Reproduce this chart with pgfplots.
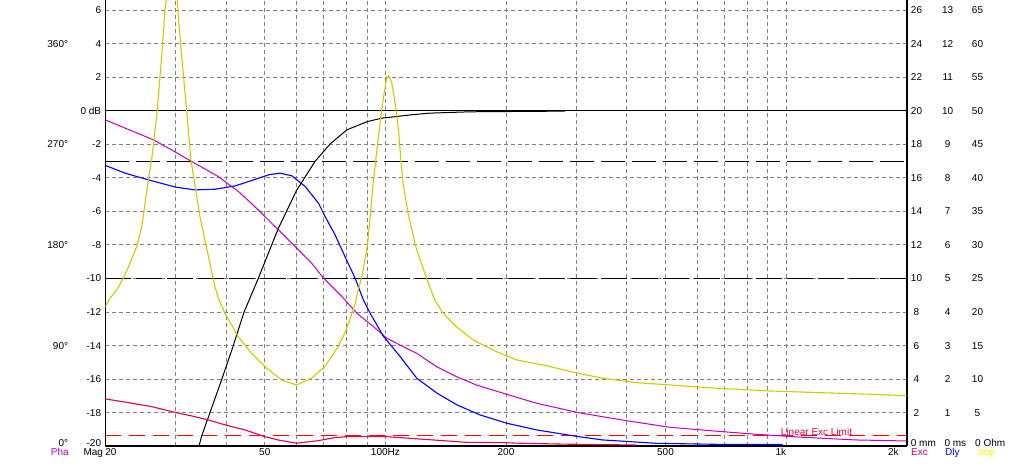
\documentclass[border=0pt]{standalone}
\usepackage{fontspec}
\setmainfont{Liberation Sans}
\usepackage{pgfplots}
\usepackage{pgfplotstable}
\pgfplotsset{compat=1.18}
\definecolor{impc}{RGB}{204,204,0}
\definecolor{impl}{RGB}{255,255,0}
\definecolor{phac}{RGB}{192,0,192}
\definecolor{excc}{RGB}{224,0,80}
\definecolor{dlyc}{RGB}{0,0,255}
\definecolor{limc}{RGB}{255,0,0}
\definecolor{gridc}{RGB}{128,128,128}
\pgfplotstableread{
f dB
34.0 -20.3
34.8 -19.40
39.1 -15.99
41.7 -14.03
44.4 -12.00
48.1 -10.04
54.0 -7.04
60.1 -4.72
66.8 -3.01
72.8 -1.98
80.1 -1.14
90 -0.65
98 -0.44
115 -0.25
129 -0.14
163 -0.06
281 -0.02
}\magtab
\pgfplotstableread{
f ms
20 8.37
22.4 8.14
25.6 7.94
30 7.72
33.5 7.64
37.6 7.66
42.2 7.76
46.4 7.92
51.1 8.09
54.6 8.14
58.4 8.06
63.1 7.74
68.1 7.24
70.7 6.85
74.9 6.30
79.3 5.65
84.0 5.01
88.1 4.36
91.6 3.96
98.9 3.27
108.8 2.67
119.8 2.02
134.4 1.58
150.7 1.23
172 0.93
200.8 0.68
238.6 0.48
303 0.28
349 0.18
475 0.08
670 0.05
980 0.045
}\dlytab
\pgfplotstableread{
f deg
20 291.8
23.5 281.5
26.4 273.9
29.3 264.9
33.2 253.7
38.3 241.1
43.0 227.7
48.2 211.2
54.1 193.4
60.7 175.5
65.5 163.5
70.1 150.2
77.9 133.7
84.9 118.8
93.4 106.8
100.8 96.5
108.6 90.5
119.6 83.0
134.1 71.1
150.4 62.1
168.7 54.6
200.2 46.4
238.2 38.3
302.4 29.9
399 22.7
512 16.8
657 13.5
842 10.5
1101 7.8
1496 5.4
2000 4.5
}\phatab
\pgfplotstableread{
f mm
20 2.81
22.8 2.59
26.1 2.35
29.8 2.01
32.9 1.79
36.1 1.56
39.8 1.26
44.6 0.96
50.0 0.56
54.0 0.36
60.0 0.165
68.0 0.32
74.8 0.50
80 0.56
100 0.56
108.6 0.50
131.5 0.36
159.3 0.22
197 0.20
216.4 0.165
288 0.105
423 0.06
}\exctab
\pgfplotstableread{
f ohm
20 20.8
20.54 22.04
21.35 23.28
22.19 25.02
23.05 27.26
23.96 29.74
24.66 32.72
25.13 36.21
25.61 39.69
26.1 42.67
26.95 49.98
27.8 59.97
28.18 65.04
28.75 69.0
29.25 70.2
29.75 69.0
30.24 66.5
30.48 63.55
30.83 59.97
31.92 49.98
32.72 42.67
33.61 38.2
34.45 34.21
35.45 30.74
36.69 26.52
37.54 23.77
38.48 21.79
39.76 19.8
42.92 16.31
46.35 13.84
50.03 11.84
55.08 9.85
60.0 9.11
65.4 10.11
70.6 11.84
76.2 14.82
79.2 16.82
81.5 18.8
83.9 21.04
85.5 23.28
87.2 25.02
90.24 30.0
91.8 34.72
93.2 39.2
94.6 42.67
97.8 49.98
99.3 52.62
100.7 54.86
102.0 55.2
103.6 54.35
105.1 52.11
106.6 49.64
108.0 46.65
109.3 42.67
110.7 39.2
113.9 34.72
119.1 29.74
123.0 27.26
126.6 25.02
132.8 21.79
139.3 19.8
150.4 17.8
165.5 15.82
189.3 14.07
212.4 12.84
247.3 12.09
302.4 10.85
349.2 10.11
422.8 9.45
512 9.11
669.4 8.62
909 8.21
1212 7.96
1615 7.72
2000 7.51
}\imptab
\begin{document}
\begin{tikzpicture}[font=\fontsize{10bp}{12bp}\selectfont,
  lab/.style={inner sep=0pt, text height=7.2bp, text depth=0pt}]
\useasboundingbox (-105.3bp,-22bp) rectangle (925.7bp,446bp);
\begin{axis}[
  at={(0,0)}, anchor=south west,
  scale only axis, width=801.4bp, height=446bp,
  xmode=log, xmin=20, xmax=2000, ymin=-20, ymax=6.61,
  axis x line=bottom, axis y line=box,
  axis line style={-, black, line width=1.6bp},
  xtick={20,50,100,200,500,1000,2000},
  xticklabels={\makebox[0pt][l]{20},50,100Hz,200,500,\makebox[0pt][r]{1k},\makebox[0pt][r]{2k\hspace{8bp}}},
  minor xtick={30,40,60,70,80,90,300,400,600,700,800,900},
  ytick={-20,-18,...,6},
  yticklabels={\raisebox{2.7bp}{-20},-18,-16,-14,-12,-10,-8,-6,-4,-2,0 dB,2,4,6},
  major tick length=0pt, minor tick length=0pt,
  grid=both,
  major grid style={gridc, line width=0.8bp, dash pattern=on 4bp off 3bp},
  minor grid style={gridc, line width=0.8bp, dash pattern=on 4bp off 3bp},
  xticklabel style={anchor=north, inner sep=0pt, text height=7.2bp, text depth=0pt, yshift=-2.5bp},
  yticklabel style={anchor=east, inner sep=0pt, text height=7.2bp, text depth=0pt, xshift=-4bp},
  tick label style={font=\fontsize{10bp}{12bp}\selectfont},
  clip mode=individual,
]
% reference lines
\addplot[black, line width=1bp] coordinates {(20,0) (2000,0)};
\addplot[black, line width=1.1bp, dash pattern=on 24bp off 7bp] coordinates {(20,-3) (2000,-3)};
\addplot[black, line width=1.1bp, dash pattern=on 26bp off 5bp] coordinates {(20,-10) (2000,-10)};
% linear excursion limit (0.62 mm = -19.38 on the dB scale)
\draw[draw=limc, line width=1.6bp, dash pattern=on 16bp off 8bp] (axis cs:20,-19.38) -- (axis cs:2000,-19.38);
\node[lab, anchor=base, text=excc, yshift=0.5bp] at (axis cs:1191,-19.38) {Linear Exc Limit};
% curves
\addplot[black, line width=1bp] table[x=f, y=dB] {\magtab};
\addplot[phac, line width=1bp] table[x=f, y expr=\thisrow{deg}/15-20] {\phatab};
\addplot[excc, line width=1.1bp] table[x=f, y expr=\thisrow{mm}-20] {\exctab};
\addplot[dlyc, line width=1.1bp] table[x=f, y expr=2*\thisrow{ms}-20] {\dlytab};
\addplot[impc, line width=1.1bp] table[x=f, y expr=\thisrow{ohm}/2.5-20] {\imptab};
% phase scale (left)
\node[lab, anchor=east] at ([xshift=-37bp]axis cs:20,4) {360°};
\node[lab, anchor=east] at ([xshift=-37bp]axis cs:20,-2) {270°};
\node[lab, anchor=east] at ([xshift=-37bp]axis cs:20,-8) {180°};
\node[lab, anchor=east] at ([xshift=-37bp]axis cs:20,-14) {90°};
\node[lab, anchor=east] at ([xshift=-37bp,yshift=2.7bp]axis cs:20,-20) {0°};
\node[lab, anchor=west, text=phac] at ([xshift=-54.6bp,yshift=-6.1bp]axis cs:20,-20) {Pha};
\node[lab, anchor=west] at ([xshift=-22bp,yshift=-6.1bp]axis cs:20,-20) {Mag};
% right scales
\pgfplotsinvokeforeach{1,...,13}{
  \node[lab] at ([xshift=9.8bp]axis cs:2000,{2*#1-20}) {\the\numexpr2*#1\relax};
  \node[lab] at ([xshift=41bp]axis cs:2000,{2*#1-20}) {#1};
  \node[lab] at ([xshift=70.8bp]axis cs:2000,{2*#1-20}) {\the\numexpr5*#1\relax};
}
\node[lab, anchor=west] at ([xshift=4bp,yshift=2.7bp]axis cs:2000,-20) {0 mm};
\node[lab, anchor=west] at ([xshift=37.6bp,yshift=2.7bp]axis cs:2000,-20) {0 ms};
\node[lab, anchor=west] at ([xshift=68.3bp,yshift=2.7bp]axis cs:2000,-20) {0 Ohm};
\node[lab, anchor=west, text=excc] at ([xshift=4.3bp,yshift=-6.1bp]axis cs:2000,-20) {Exc};
\node[lab, anchor=west, text=dlyc] at ([xshift=38.3bp,yshift=-6.1bp]axis cs:2000,-20) {Dly};
\node[lab, anchor=west, text=impl] at ([xshift=71.6bp,yshift=-6.1bp]axis cs:2000,-20) {Imp};
\end{axis}
\end{tikzpicture}
\end{document}
